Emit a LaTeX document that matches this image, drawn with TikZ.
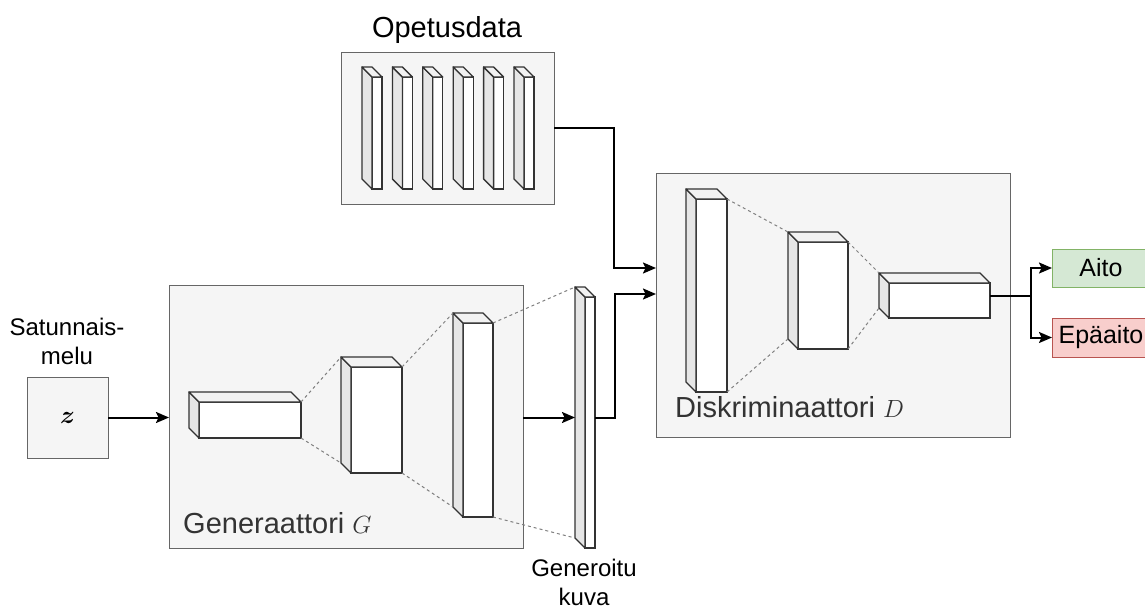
\documentclass[tikz,border=0pt]{standalone}
\usepackage{fontspec}
\setmainfont{Liberation Sans}
\usepackage{amsmath}
\usetikzlibrary{calc,arrows.meta}

\definecolor{panelfill}{HTML}{F5F5F5}
\definecolor{panelline}{HTML}{666666}
\definecolor{sideface}{HTML}{E6E6E6}
\definecolor{topface}{HTML}{F2F2F2}
\definecolor{edgeline}{HTML}{333333}
\definecolor{realfill}{HTML}{D5E8D4}
\definecolor{realline}{HTML}{82B366}
\definecolor{fakefill}{HTML}{F8CECC}
\definecolor{fakeline}{HTML}{B85450}

\tikzset{
  panel/.style={draw=panelline, fill=panelfill, line width=1pt, inner sep=0pt, outer sep=0pt},
  blockfront/.style={draw=edgeline, fill=white, line width=1.3pt, inner sep=0pt, outer sep=0pt},
  blockedge/.style={draw=edgeline, line width=1.3pt, line join=round},
  link/.style={draw=gray, dash pattern=on 3pt off 3pt, line width=1pt},
  flow/.style={draw=black, line width=2pt, -{Stealth[length=13pt,width=11pt,inset=2.5pt]}},
  wire/.style={draw=black, line width=2pt},
  biglabel/.style={font=\fontsize{29}{34}\selectfont, text=black!80, inner sep=0pt, anchor=base west},
  title/.style={font=\fontsize{29}{34}\selectfont, inner sep=0pt, anchor=base},
  smalllabel/.style={font=\fontsize{24}{29}\selectfont, inner sep=0pt, align=center, anchor=base},
  verdict/.style={font=\fontsize{25}{30}\selectfont, inner sep=0pt, outer sep=0pt, line width=1pt,
                  minimum width=98pt, anchor=north west},
}

% front face node plus shaded side and top faces of a layer block
\newcommand{\layerblock}[5]{%
  \node[blockfront, minimum width=#4pt, minimum height=#5pt, anchor=north west] (#1) at (#2,#3) {};
  \filldraw[blockedge, fill=sideface] (#1.north west) -- ++(-10,-10)
     -- ($(#1.south west)+(-10,-10)$) -- (#1.south west) -- cycle;
  \filldraw[blockedge, fill=topface] (#1.north west) -- ++(-10,-10)
     -- ($(#1.north east)+(-10,-10)$) -- (#1.north east) -- cycle;
  \coordinate (#1-bnw) at ($(#1.north west)+(-10,-10)$);
  \coordinate (#1-bsw) at ($(#1.south west)+(-10,-10)$);
}

\begin{document}
\begin{tikzpicture}[x=1pt,y=-1pt]
\useasboundingbox (0,0) rectangle (1145,608);

% panels
\node[panel, minimum width=213pt, minimum height=152pt, anchor=north west] (opet) at (341,52) {};
\node[panel, minimum width=354pt, minimum height=263pt, anchor=north west] (gen) at (169,285) {};
\node[panel, minimum width=354pt, minimum height=264pt, anchor=north west] (disc) at (656,173) {};
\node[panel, minimum width=81pt, minimum height=81pt, anchor=north west,
      font=\fontsize{24}{28}\selectfont] (z) at (27,377) {$\boldsymbol{z}$};

% titles and labels (base anchor sits on the last line)
\node[title] (opettitle) at (447,37) {Opetusdata};
\node[smalllabel] (noiselbl) at (67,364) {Satunnais-\\melu};
\node[smalllabel] (imglbl) at (584,605) {Generoitu\\kuva};
\node[biglabel] (genlbl) at (183,533) {Generaattori \fontsize{31}{34}\selectfont$G$};
\node[biglabel] (disclbl) at (675,417) {Diskriminaattori $D$};

% training data samples
\foreach \i in {0,...,5} {
  \layerblock{t\i}{372+30.4*\i}{77}{10}{112}
}

% generator layers
\layerblock{g1}{199}{402}{102}{36}
\layerblock{g2}{351}{367}{51}{106}
\layerblock{g3}{463}{323}{30}{194}
% generated image
\layerblock{gimg}{585}{297}{10}{251}

% discriminator layers
\layerblock{d1}{696}{199}{31}{193}
\layerblock{d2}{798}{242}{50}{107}
\layerblock{d3}{889}{283}{101}{35}

% dashed connections between layers
\draw[link] (g1.north east) -- (g2-bnw);
\draw[link] (g1.south east) -- (g2-bsw);
\draw[link] (g2.north east) -- (g3-bnw);
\draw[link] (g2.south east) -- (g3-bsw);
\draw[link] (g3.north east) -- (gimg-bnw);
\draw[link] (g3.south east) -- (gimg-bsw);
\draw[link] (d1.north east) -- (d2-bnw);
\draw[link] (d1.south east) -- (d2-bsw);
\draw[link] (d2.north east) -- (d3-bnw);
\draw[link] (d2.south east) -- (d3-bsw);

% outputs
\node[verdict, draw=realline, fill=realfill, minimum height=38pt] (aito) at (1052,249) {Aito};
\node[verdict, draw=fakeline, fill=fakefill, minimum height=39pt] (epa) at (1052,318) {Epäaito};

% data flow
\coordinate (dinA) at (disc.west |- 0,268);
\coordinate (dinB) at (disc.west |- 0,294);
\coordinate (split) at (1031,0);
\coordinate (dout) at ($(d3.east)+(0,-5)$);

\draw[flow] (z.east) -- (z.east -| gen.west);
\draw[flow] (z.east -| gen.east) -- (z.east -| gimg-bnw);
\draw[flow] (z.east -| gimg.east) -- ++(20,0) |- (dinB);
\draw[flow] (opet.east) -| ($(dinA)+(-42,0)$) -- (dinA);
\draw[wire] (dout) -- (dout -| split);
\draw[flow] (dout -| split) |- (aito.west);
\draw[flow] (dout -| split) |- (epa.west);
\end{tikzpicture}
\end{document}
